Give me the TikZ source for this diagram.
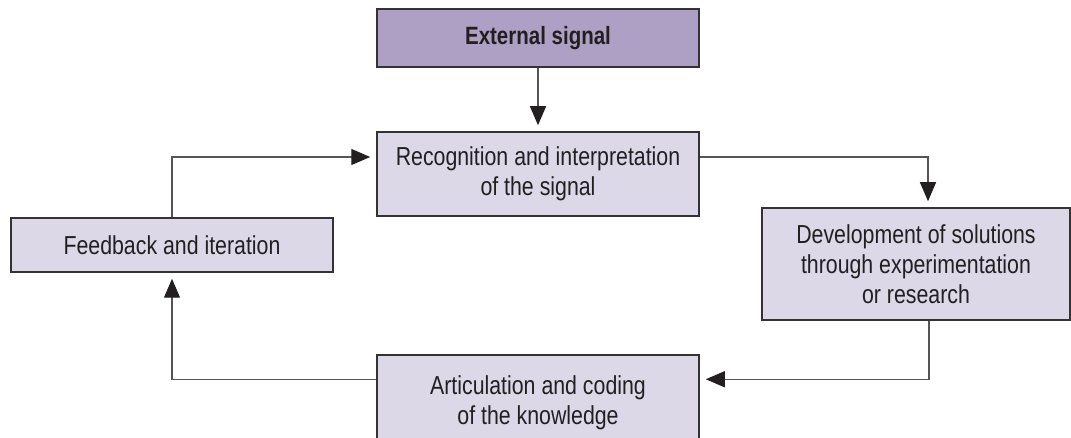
\documentclass[tikz,border=0pt]{standalone}
\usepackage{fontspec}
\setmainfont{Liberation Sans}[FakeStretch=0.82]
\usetikzlibrary{arrows.meta}
\definecolor{extfill}{HTML}{AE9FC4}
\definecolor{boxfill}{HTML}{DCD8E8}
\definecolor{boxline}{HTML}{333333}
\definecolor{txt}{HTML}{231F20}
\definecolor{conn}{HTML}{555555}
\begin{document}
\begin{tikzpicture}[x=1pt,y=-1pt,
  box/.style={draw=boxline, line width=1.5pt, fill=boxfill, text=txt, align=center,
    inner sep=0pt, font=\fontsize{26}{30}\selectfont},
  extbox/.style={box, fill=extfill, font=\fontsize{25}{30}\selectfont\bfseries},
  lbl/.style={text=txt, align=center, inner sep=0pt, font=\fontsize{26}{30}\selectfont},
  conn/.style={draw=conn, line width=1.2pt, -{Triangle[length=19pt,width=16pt,fill=txt,color=txt]}, shorten >=6pt}
]
\useasboundingbox (0,0) rectangle (1071,438);
\clip (0,0) rectangle (1071,438);
\node[extbox, minimum width=322pt, minimum height=58pt] (ext) at (538,38) {External signal};
\node[box, minimum width=322pt, minimum height=84pt] (rec) at (538,174) {Recognition and interpretation\\of the signal};
\node[box, minimum width=322pt, minimum height=54pt] (feed) at (172,245) {Feedback and iteration};
\node[box, minimum width=308pt, minimum height=112pt] (dev) at (916,264) {Development of solutions\\through experimentation\\or research};
\node[box, minimum width=322pt, minimum height=110pt] (art) at (538,410) {};
\node[lbl] (artlbl) at (538,403) {Articulation and coding\\of the knowledge};

\draw[conn] (ext.south) -- (rec.north);
\draw[conn] ([yshift=17pt]rec.east) -| ([xshift=12pt]dev.north);
\draw[conn] ([xshift=13pt]dev.south) |- ([yshift=-25pt]art.north east);
\draw[conn] ([yshift=-25pt]art.north west) -| (feed.south);
\draw[conn] (feed.north) |- ([yshift=17pt]rec.west);
\end{tikzpicture}
\end{document}
